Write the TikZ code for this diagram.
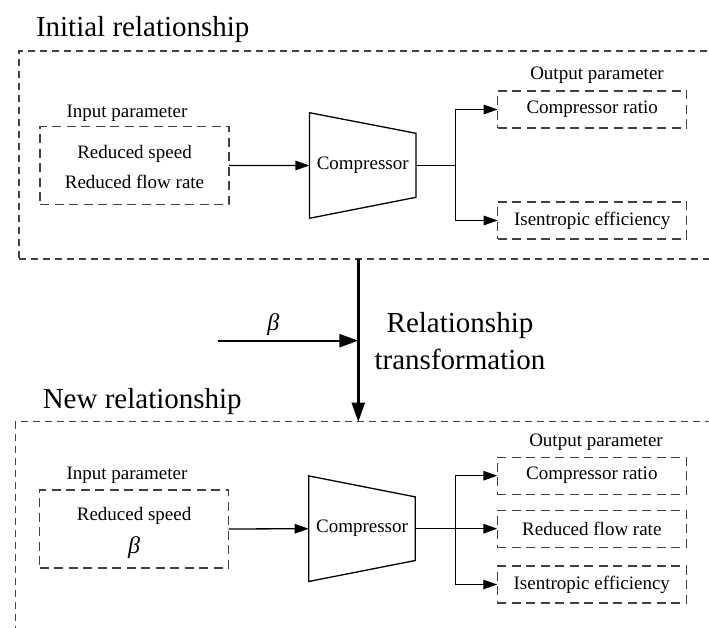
\documentclass[tikz,border=0pt]{standalone}
\usepackage{fontspec}
\setmainfont{Liberation Serif}
\usetikzlibrary{arrows.meta,calc}
\begin{document}
\begin{tikzpicture}[x=1pt,y=-1pt,
  every node/.style={inner sep=0pt, outer sep=0pt},
  smalltext/.style={font=\fontsize{19}{30}\selectfont},
  bigtext/.style={font=\fontsize{29}{36.7}\selectfont},
  betatext/.style={font=\fontsize{24}{24}\selectfont\itshape},
  outerbox/.style={draw=black!75, line width=1.1pt, dash pattern=on 7pt off 5pt, anchor=north west},
  parbox/.style={draw=black!75, line width=1.3pt, dash pattern=on 9pt off 5.5pt, smalltext, align=center},
  outbox/.style={parbox, minimum width=189pt, minimum height=37pt},
  inbox/.style={parbox, minimum width=189pt, minimum height=78pt},
  comp/.style={smalltext, minimum width=106.6pt, minimum height=105.6pt},
  trap/.style={draw=black, line width=1.3pt, line join=miter},
  conn/.style={draw=black, line width=1.3pt},
  arr/.style={conn, -{Triangle[length=14pt,width=9.5pt]}},
  bigarr/.style={draw=black, line width=2.4pt, -{Triangle[length=19pt,width=13pt]}},
]
\useasboundingbox (0,0) rectangle (709,628);
\clip (0,0) rectangle (709,628);
\fill[white] (0,0) rectangle (709,628);

% ---------- initial relationship ----------
\node[outerbox, minimum width=720pt, minimum height=208pt] (outer1) at (19,51) {};
\node[bigtext, anchor=base west] (title1) at (36,36.7) {Initial relationship};

\node[smalltext, anchor=base] (inlab1) at (127,117.5) {Input parameter};
\node[inbox] (in1) at (134.5,165.4) {\rule{0pt}{16.7pt}Reduced speed\\Reduced flow rate};

\node[comp] (c1) at (362.7,165.5) {Compressor};
\draw[trap] (c1.north west) -- ([yshift=-20.6pt]c1.north east) -- ([yshift=21pt]c1.south east) -- (c1.south west) -- cycle;

\node[smalltext, anchor=base] (outlab1) at (597,79.5) {Output parameter};
\node[outbox] (cr1) at (592.2,109.5) {Compressor ratio};
\node[outbox] (ie1) at (592.2,220.5) {Isentropic efficiency};

\coordinate (s1) at (455.5,165.5);
\draw[arr] (in1.east) -- (c1.west);
\draw[conn] (c1.east) -- (s1);
\draw[arr] (s1) |- (cr1.west);
\draw[arr] (s1) |- (ie1.west);

% ---------- transformation ----------
\node[outerbox, minimum width=720pt, minimum height=300pt] (outer2) at (15.7,421.7) {};
\coordinate (vx) at (358.3,0);
\draw[bigarr] (outer1.south -| vx) -- (outer2.north -| vx);
\coordinate (b0) at (218.3,340.7);
\draw[bigarr] (b0) -- (b0 -| vx);
\node[betatext, anchor=base] (beta1) at (273.3,330.5) {β};
\node[bigtext, align=center, anchor=base] (rt) at (460,369) {Relationship\\transformation};

% ---------- new relationship ----------
\node[bigtext, anchor=base west] (title2) at (42.8,408.3) {New relationship};

\node[smalltext, anchor=base] (inlab2) at (127,479.8) {Input parameter};
\node[inbox] (in2) at (134.1,529) {\rule{0pt}{21.5pt}Reduced speed\\[2.7pt]{\fontsize{24}{24}\selectfont\itshape β}};

\node[comp] (c2) at (362,528.7) {Compressor};
\draw[trap] (c2.north west) -- ([yshift=-21pt]c2.north east) -- ([yshift=21pt]c2.south east) -- (c2.south west) -- cycle;

\node[smalltext, anchor=base] (outlab2) at (596,446) {Output parameter};
\node[outbox] (cr2) at (591.8,475.7) {Compressor ratio};
\node[outbox] (rfr2) at (591.8,528.7) {Reduced flow rate};
\node[outbox] (ie2) at (591.8,584.5) {Isentropic efficiency};

\coordinate (s2) at (455.5,528.7);
\draw[arr] (in2.east) -- (c2.west);
\draw[arr] (c2.east) -- (rfr2.west);
\draw[arr] (s2) |- (cr2.west);
\draw[arr] (s2) |- (ie2.west);
\end{tikzpicture}
\end{document}
